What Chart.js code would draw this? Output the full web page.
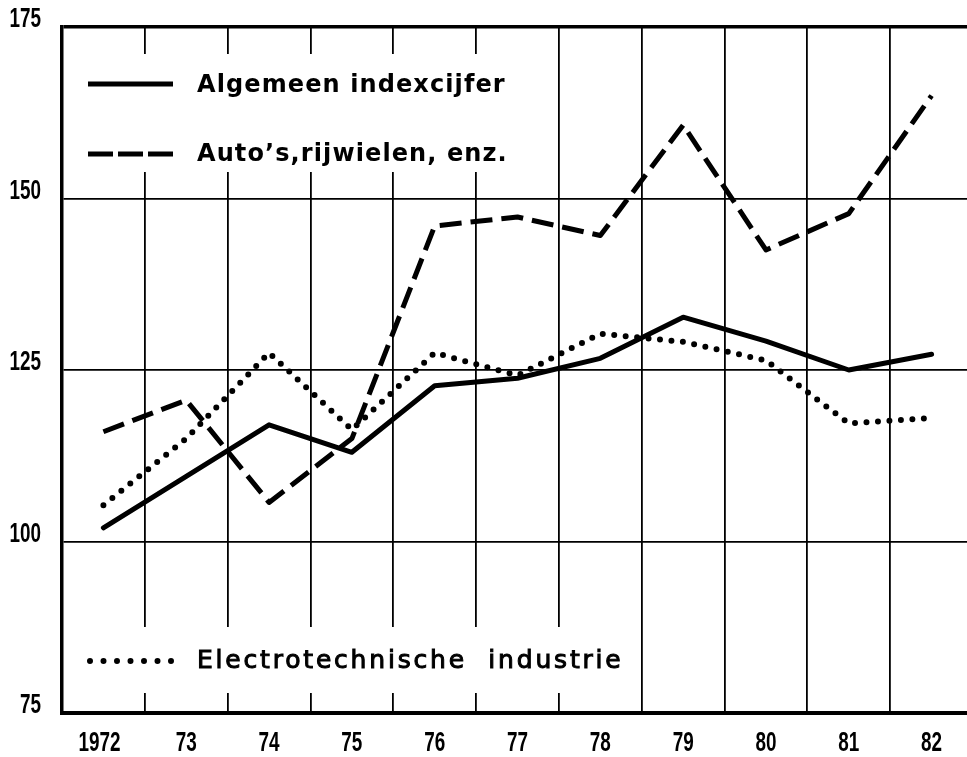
<!DOCTYPE html>
<html>
<head>
<meta charset="utf-8">
<script src="https://cdn.jsdelivr.net/npm/chart.js@4.4.1/dist/chart.umd.min.js"></script>
<style>
  html, body { margin: 0; padding: 0; background: #fff; overflow: hidden; }
  #wrap { width: 975px; height: 757px; }
</style>
</head>
<body>
<div id="wrap"><canvas id="chart"></canvas></div>
<script>
// values
const years = ['1972', '73', '74', '75', '76', '77', '78', '79', '80', '81', '82'];
const algemeen = [102, 109.5, 117, 113, 122.7, 123.8, 126.7, 132.7, 129.2, 125, 127.3];
const autos = [116, 120.6, 105.7, 115, 146, 147.3, 144.6, 160.7, 142.5, 147.8, 165];
const electro = [105.3, 115, 127.5, 116.3, 127.5, 124.2, 130.3, 129.1, 126.4, 117.2, 118];
const yMin = 75, yMax = 175, yStep = 25;
const labels = ['Algemeen indexcijfer', 'Auto\u2019s,rijwielen, enz.', 'Electrotechnische  industrie'];

// the original uses a tall narrow numeral face: draw squeezed text
const tickFont = 'bold 27px "Liberation Sans", Arial, sans-serif';
const squeeze = 0.7;

function narrowText(ctx, text, x, y, align) {
  ctx.save();
  ctx.translate(x, y);
  ctx.scale(squeeze, 1);
  ctx.textAlign = align;
  ctx.fillText(text, 0, 0);
  ctx.restore();
}

const narrowTicks = {
  id: 'narrowTicks',
  afterDraw(chart) {
    const { ctx, chartArea: a } = chart;
    const xs = chart.scales.x, ys = chart.scales.y;
    ctx.save();
    ctx.font = tickFont;
    ctx.fillStyle = '#000';
    ctx.textBaseline = 'middle';
    xs.getLabels().forEach((lab, i) => {
      narrowText(ctx, lab, xs.getPixelForTick(i) - (i === 0 ? 4 : 0), a.bottom + 31, 'center');
    });
    ys.ticks.forEach(t => {
      narrowText(ctx, String(t.value), a.left - 21, ys.getPixelForValue(t.value) - 7, 'right');
    });
    ctx.restore();
  }
};

// white legend panels drawn over the grid, like the printed original
const paperLegend = {
  id: 'paperLegend',
  beforeDatasetsDraw(chart) {
    const { ctx, chartArea: a } = chart;
    ctx.save();
    ctx.fillStyle = '#fff';
    ctx.fillRect(a.left + 3, a.top + 27, 478, 118);
    ctx.fillRect(a.left + 3, a.bottom - 86, 566, 66);

    ctx.strokeStyle = '#000';
    ctx.fillStyle = '#000';
    ctx.lineWidth = 5;
    const x0 = a.left + 26, x1 = a.left + 111;

    ctx.beginPath();
    ctx.moveTo(x0, a.top + 57); ctx.lineTo(x1, a.top + 57);
    ctx.stroke();

    ctx.setLineDash([25, 5]);
    ctx.beginPath();
    ctx.moveTo(x0, a.top + 127); ctx.lineTo(x1 + 1, a.top + 127);
    ctx.stroke();

    ctx.lineWidth = 6;
    ctx.setLineDash([0, 13.5]);
    ctx.lineCap = 'round';
    ctx.beginPath();
    ctx.moveTo(x0 + 2, a.bottom - 52); ctx.lineTo(x1, a.bottom - 52);
    ctx.stroke();
    ctx.setLineDash([]);
    ctx.lineCap = 'butt';

    ctx.textBaseline = 'alphabetic';
    ctx.font = 'bold 24px "DejaVu Sans", sans-serif';
    ctx.letterSpacing = '1.1px';
    ctx.fillText(labels[0], a.left + 135, a.top + 65);
    ctx.fillText(labels[1], a.left + 135, a.top + 134);

    ctx.font = '25px "DejaVu Sans", sans-serif';
    ctx.letterSpacing = '2.8px';
    ctx.lineWidth = 1;
    ctx.fillText(labels[2], a.left + 135, a.bottom - 45);
    ctx.strokeText(labels[2], a.left + 135, a.bottom - 45);
    ctx.restore();
  }
};

new Chart(document.getElementById('chart'), {
  type: 'line',
  data: {
    labels: years,
    datasets: [
      { label: labels[0], data: algemeen, borderColor: '#000', borderWidth: 5,
        borderCapStyle: 'round', borderJoinStyle: 'round' },
      { label: labels[1], data: autos, borderColor: '#000', borderWidth: 5,
        borderDash: [22, 9], borderJoinStyle: 'round' },
      { label: labels[2], data: electro, borderColor: '#000', borderWidth: 6,
        borderDash: [0, 11.5], borderCapStyle: 'round' }
    ]
  },
  options: {
    responsive: true,
    maintainAspectRatio: false,
    animation: false,
    layout: { padding: { top: 27, right: 2, left: 0, bottom: 0 } },
    elements: { point: { radius: 0 }, line: { tension: 0, fill: false } },
    plugins: { legend: { display: false }, tooltip: { enabled: false } },
    scales: {
      x: {
        offset: true,
        grid: { offset: true, color: '#000', lineWidth: 1.8, drawTicks: false },
        border: { color: '#000', width: 4 },
        ticks: { display: false, autoSkip: false },
        afterFit(scale) { scale.height = 44; }
      },
      y: {
        min: yMin, max: yMax,
        grid: {
          color: '#000', drawTicks: false,
          lineWidth: c => (c.tick && c.tick.value === yMax ? 3.5 : (c.tick && c.tick.value === yMin ? 0 : 1.8))
        },
        border: { color: '#000', width: 3.5 },
        ticks: { display: false, stepSize: yStep },
        afterFit(scale) { scale.width = 62; }
      }
    }
  },
  plugins: [paperLegend, narrowTicks]
});
</script>
</body>
</html>
